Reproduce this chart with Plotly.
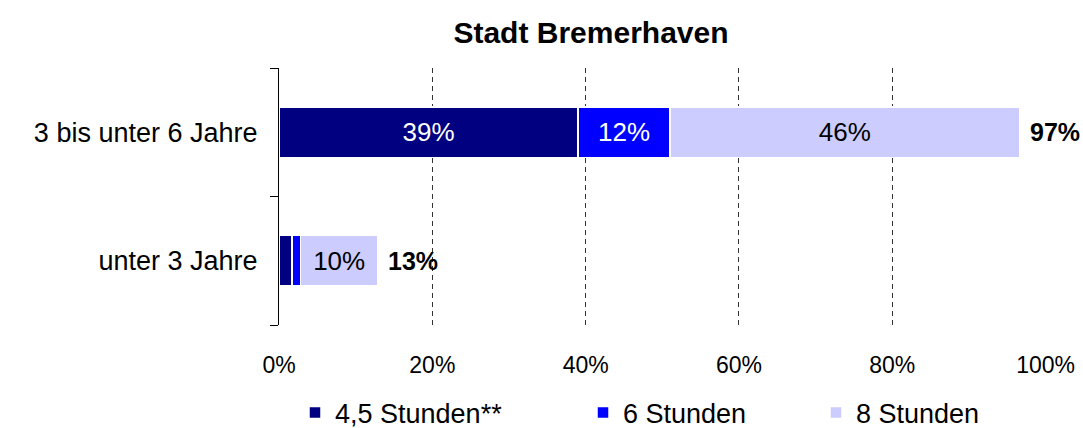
import plotly.graph_objects as go

# Betreuungsquoten nach Betreuungsumfang, Stadt Bremerhaven
categories = ["unter 3 Jahre", "3 bis unter 6 Jahre"]
series_names = ["4,5 Stunden**", "6 Stunden", "8 Stunden"]
share_45h = [1.7, 39.0]
share_6h = [1.1, 12.0]
share_8h = [10.1, 45.6]
x_ticks = [0, 20, 40, 60, 80, 100]
x_tick_labels = ["0%", "20%", "40%", "60%", "80%", "100%"]

colors = ["#000080", "#0000FF", "#CCCCFF"]
text_colors = ["white", "white", "black"]
FONT = "Liberation Sans, Arial, sans-serif"

W, H = 1083, 428
ML, MR, MT, MB = 279, 37, 68, 103

fig = go.Figure()
all_series = [share_45h, share_6h, share_8h]
for i, (name, vals) in enumerate(zip(series_names, all_series)):
    fig.add_trace(go.Bar(
        name=name,
        y=categories,
        x=vals,
        orientation="h",
        width=0.39,
        marker=dict(color=colors[i], line=dict(color="white", width=1.5)),
        text=[f"{round(v)}%" if v >= 5 else "" for v in vals],
        textposition="inside",
        insidetextanchor="middle",
        textfont=dict(family=FONT, size=26, color=text_colors[i]),
        constraintext="none",
        hoverinfo="skip",
        legend=["legend", "legend2", "legend3"][i],
    ))

# Summen rechts neben den Balken
totals = [a + b + c for a, b, c in zip(share_45h, share_6h, share_8h)]
for cat, tot in zip(categories, totals):
    fig.add_annotation(
        x=tot, y=cat, text=f"<b>{round(tot)}%</b>", showarrow=False,
        xanchor="left", yanchor="middle", xshift=8,
        font=dict(family=FONT, size=25, color="black"),
    )

plot_w = W - ML - MR
plot_h = H - MT - MB


def px_to_paper_x(px):
    return (px - ML) / plot_w


legend_common = dict(
    orientation="h", yanchor="middle", y=((H - MB) - 413) / plot_h,
    xanchor="left", font=dict(family=FONT, size=27, color="black"),
    bgcolor="rgba(0,0,0,0)", itemwidth=30, tracegroupgap=0,
)

fig.update_layout(
    width=W, height=H,
    margin=dict(l=ML, r=MR, t=MT, b=MB, autoexpand=False),
    paper_bgcolor="white", plot_bgcolor="white",
    barmode="stack",
    font=dict(family=FONT, color="black"),
    title=dict(
        text="<b>Stadt Bremerhaven</b>",
        x=591 / W, xanchor="center", xref="container",
        y=1 - 32 / H, yanchor="middle", yref="container",
        font=dict(family=FONT, size=30, color="black"),
    ),
    xaxis=dict(
        range=[0, 100.05],
        tickvals=x_ticks, ticktext=x_tick_labels,
        showgrid=True, gridcolor="#333333", gridwidth=1, griddash="5px,4px",
        zeroline=False, showline=False, ticks="",
        ticklabelstandoff=24,
        tickfont=dict(family=FONT, size=23, color="black"),
    ),
    yaxis=dict(
        type="category", categoryorder="array", categoryarray=categories,
        range=[-0.5, 1.5],
        showline=True, linecolor="black", linewidth=1.2,
        ticks="outside", ticklen=8, tickcolor="black", tickwidth=1.2,
        tickson="boundaries", showgrid=False, zeroline=False,
        ticklabelstandoff=15,
        tickfont=dict(family=FONT, size=27, color="black"),
    ),
    legend=dict(legend_common, x=px_to_paper_x(295)),
    legend2=dict(legend_common, x=px_to_paper_x(583)),
    legend3=dict(legend_common, x=px_to_paper_x(816)),
    showlegend=True,
)

fig.write_html("out.html")
